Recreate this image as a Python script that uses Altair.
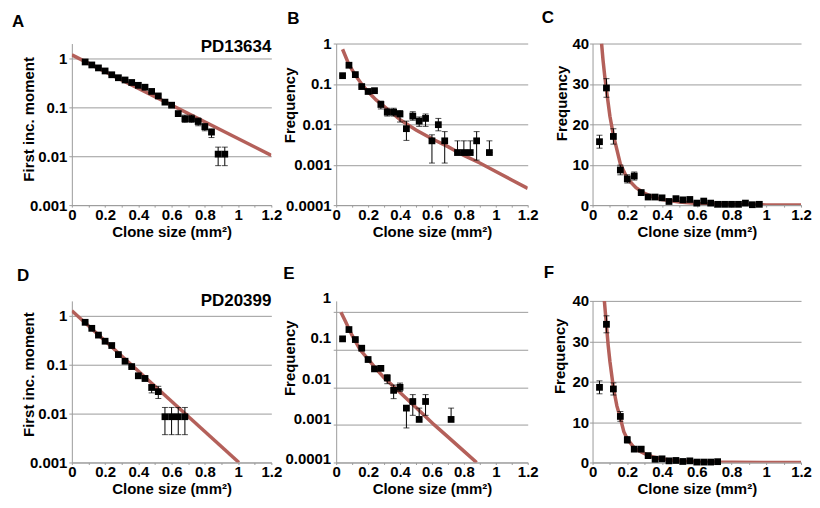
import altair as alt
import pandas as pd

FONT = "Liberation Sans"
FIT_COLOR = "#B4605A"
GRID = "#9c9c9c"

# ---------------- data ----------------
x_ticks = [0, 0.1, 0.2, 0.3, 0.4, 0.5, 0.6, 0.7, 0.8, 0.9, 1.0, 1.1, 1.2]

# A: PD13634 first incomplete moment
a_x = [0.08, 0.12, 0.16, 0.20, 0.24, 0.28, 0.32, 0.36, 0.40, 0.44, 0.48, 0.52, 0.56, 0.60, 0.64, 0.68, 0.72, 0.76, 0.80, 0.84, 0.88, 0.92]
a_y = [0.84, 0.73, 0.635, 0.55, 0.46, 0.40, 0.36, 0.32, 0.28, 0.256, 0.21, 0.17, 0.127, 0.11, 0.074, 0.058, 0.058, 0.051, 0.040, 0.031, 0.011, 0.011]
a_lo = [0.82, 0.71, 0.62, 0.535, 0.45, 0.39, 0.35, 0.31, 0.27, 0.246, 0.20, 0.16, 0.118, 0.102, 0.066, 0.049, 0.049, 0.042, 0.033, 0.024, 0.0064, 0.0064]
a_hi = [0.86, 0.75, 0.65, 0.565, 0.47, 0.41, 0.37, 0.33, 0.29, 0.266, 0.22, 0.18, 0.136, 0.118, 0.082, 0.069, 0.069, 0.060, 0.046, 0.036, 0.0153, 0.0153]
a_fit_x = [0, 1.2]
a_fit_y = [1.17, 0.0104]

# B: PD13634 frequency (log)
b_x = [0.04, 0.08, 0.12, 0.16, 0.20, 0.24, 0.28, 0.32, 0.36, 0.40, 0.44, 0.48, 0.52, 0.56, 0.60, 0.64, 0.68, 0.76, 0.80, 0.84, 0.88, 0.96]
b_y = [0.16, 0.29, 0.17, 0.086, 0.065, 0.068, 0.031, 0.020, 0.020, 0.018, 0.0078, 0.016, 0.012, 0.014, 0.0039, 0.0098, 0.0039, 0.002, 0.002, 0.002, 0.0039, 0.002]
b_lo = [0.155, 0.28, 0.165, 0.083, 0.062, 0.065, 0.024, 0.016, 0.016, 0.0114, 0.004, 0.0126, 0.0089, 0.0089, 0.0011, 0.0069, 0.0011, 0.002, 0.002, 0.002, 0.0013, 0.002]
b_hi = [0.165, 0.30, 0.175, 0.089, 0.068, 0.071, 0.0375, 0.025, 0.025, 0.022, 0.012, 0.0205, 0.0152, 0.018, 0.0055, 0.014, 0.0066, 0.0039, 0.0039, 0.0039, 0.0066, 0.0039]
b_fit_x = [0.04, 0.08, 0.12, 0.16, 0.20, 0.25, 0.30, 0.40, 0.50, 0.60, 0.70, 0.80, 0.90, 1.00, 1.10, 1.20]
b_fit_y = [0.72, 0.30, 0.165, 0.098, 0.064, 0.040, 0.028, 0.013, 0.0072, 0.0044, 0.0028, 0.0017, 0.0011, 0.00068, 0.00042, 0.00026]

# C: PD13634 frequency (linear)
c_x = [0.04, 0.08, 0.12, 0.16, 0.20, 0.24, 0.28, 0.32, 0.36, 0.40, 0.44, 0.48, 0.52, 0.56, 0.60, 0.64, 0.68, 0.72, 0.76, 0.80, 0.84, 0.88, 0.92, 0.96]
c_y = [15.7, 29.0, 17.0, 8.7, 6.5, 7.2, 3.1, 2.0, 2.0, 1.8, 0.9, 1.6, 1.3, 1.4, 0.5, 1.0, 0.5, 0.2, 0.2, 0.2, 0.2, 0.5, 0.1, 0.2]
c_lo = [14.1, 26.7, 15.1, 7.5, 5.5, 6.2, 2.5, 1.7, 1.7, 1.5, 0.6, 1.3, 1.0, 1.1, 0.2, 0.7, 0.2, 0.0, 0.0, 0.0, 0.0, 0.2, 0.0, 0.0]
c_hi = [17.3, 31.3, 18.9, 9.9, 7.5, 8.2, 3.7, 2.3, 2.3, 2.1, 1.2, 1.9, 1.6, 1.7, 0.8, 1.3, 0.8, 0.4, 0.4, 0.4, 0.4, 0.8, 0.2, 0.4]
c_fit_x = [0.052, 0.06, 0.07, 0.08, 0.10, 0.12, 0.16, 0.20, 0.25, 0.30, 0.35, 0.40, 0.50, 0.60, 0.70, 0.80, 0.90, 1.00, 1.20]
c_fit_y = [40, 36, 32, 28.5, 22, 17.3, 10.2, 6.6, 4.3, 2.9, 2.0, 1.4, 0.75, 0.42, 0.25, 0.15, 0.09, 0.055, 0.02]

# D: PD20399 first incomplete moment
d_x = [0.08, 0.12, 0.16, 0.20, 0.24, 0.28, 0.32, 0.36, 0.40, 0.44, 0.48, 0.52, 0.56, 0.60, 0.64, 0.68]
d_y = [0.73, 0.55, 0.40, 0.30, 0.245, 0.16, 0.117, 0.091, 0.059, 0.052, 0.034, 0.028, 0.0086, 0.0086, 0.0086, 0.0086]
d_lo = [0.71, 0.535, 0.39, 0.29, 0.237, 0.155, 0.113, 0.087, 0.055, 0.046, 0.0264, 0.0203, 0.0037, 0.0037, 0.0037, 0.0037]
d_hi = [0.75, 0.565, 0.41, 0.31, 0.253, 0.165, 0.121, 0.095, 0.064, 0.059, 0.0386, 0.036, 0.0133, 0.0133, 0.0133, 0.0133]
d_fit_x = [0, 1.005]
d_fit_y = [1.26, 0.001]

# E: PD20399 frequency (log)
e_x = [0.04, 0.08, 0.12, 0.16, 0.20, 0.24, 0.28, 0.32, 0.36, 0.40, 0.44, 0.48, 0.52, 0.56, 0.72]
e_y = [0.195, 0.345, 0.187, 0.11, 0.055, 0.031, 0.032, 0.0177, 0.0083, 0.010, 0.0028, 0.0042, 0.0014, 0.0042, 0.0014]
e_lo = [0.19, 0.335, 0.18, 0.106, 0.053, 0.030, 0.031, 0.0125, 0.0050, 0.0078, 0.00083, 0.0018, 0.0014, 0.0018, 0.0014]
e_hi = [0.20, 0.355, 0.193, 0.114, 0.057, 0.032, 0.033, 0.0217, 0.0115, 0.013, 0.0028, 0.0064, 0.0028, 0.0064, 0.0028]
e_fit_x = [0.03, 0.06, 0.08, 0.10, 0.12, 0.15, 0.20, 0.25, 0.30, 0.365, 0.45, 0.53, 0.615, 0.70, 0.80, 0.88]
e_fit_y = [1.0, 0.55, 0.36, 0.24, 0.17, 0.10, 0.056, 0.031, 0.018, 0.010, 0.0046, 0.0022, 0.001, 0.00048, 0.0002, 0.0001]
e_label_vals = [1, 0.1, 0.01, 0.001, 0.0001]
e_label_txt = ["1", "0.1", "0.01", "0.001", "0.0001"]

# F: PD20399 frequency (linear)
f_x = [0.04, 0.08, 0.12, 0.16, 0.20, 0.24, 0.28, 0.32, 0.36, 0.40, 0.44, 0.48, 0.52, 0.56, 0.60, 0.64, 0.68, 0.72]
f_y = [18.6, 34.2, 18.2, 11.4, 5.6, 3.3, 3.3, 1.7, 0.8, 0.9, 0.4, 0.5, 0.25, 0.4, 0.1, 0.1, 0.1, 0.2]
f_lo = [17.0, 32.1, 16.7, 10.2, 4.8, 2.8, 2.8, 1.4, 0.6, 0.7, 0.2, 0.3, 0.1, 0.2, 0.0, 0.0, 0.0, 0.0]
f_hi = [20.2, 36.3, 19.7, 12.6, 6.4, 3.8, 3.8, 2.0, 1.0, 1.1, 0.6, 0.7, 0.4, 0.6, 0.2, 0.2, 0.2, 0.4]
f_fit_x = [0.068, 0.08, 0.09, 0.10, 0.12, 0.14, 0.16, 0.18, 0.20, 0.24, 0.28, 0.30, 0.35, 0.40, 0.50, 0.60, 0.80, 1.00, 1.20]
f_fit_y = [40, 34, 29, 25, 18.5, 14, 11, 7.6, 5.8, 3.6, 2.6, 2.2, 1.35, 0.85, 0.35, 0.15, 0.03, 0.01, 0.0]

# ---------------- helpers ----------------
def xenc():
    return alt.X(
        "x:Q",
        scale=alt.Scale(domain=[0, 1.2], nice=False, zero=False),
        axis=alt.Axis(
            values=x_ticks, format="~g",
            labelExpr="round(datum.value*10) % 2 == 0 ? datum.label : ''",
            title="Clone size (mm²)", grid=False, tickSize=2,
            labelPadding=0, titlePadding=2, labelFlush=False, labelOverlap=False,
        ),
    )


def label_text(txt, x, y, align="left"):
    return alt.Chart(pd.DataFrame({"t": [txt]})).mark_text(
        align=align, baseline="alphabetic", fontSize=17, fontWeight="bold", font=FONT, color="black"
    ).encode(x=alt.value(x), y=alt.value(y), text="t:N")


def panel(letter, lx, ly, xs, ys, los, his, fx, fy, scale, yvals, ytitle,
          tx, ty, w, h, labels=True, pd_text=None, pd_y=8, lpad=2, yfmt="~g"):
    pts = pd.DataFrame({"x": xs, "y": ys, "lo": los, "hi": his})
    fit = pd.DataFrame({"x": fx, "y": fy})
    yaxis = alt.Axis(
        values=yvals, format=yfmt, title=ytitle, grid=True, labels=labels,
        tickSize=3, labelPadding=lpad, titleX=tx, titleY=ty, titleAngle=270,
        titleBaseline="alphabetic", titleAlign="center", labelOverlap=False,
        labelFlush=False,
    )
    line = alt.Chart(fit).mark_line(color=FIT_COLOR, strokeWidth=3.5, clip=True).encode(
        x=xenc(), y=alt.Y("y:Q", scale=scale, axis=yaxis))
    rule = alt.Chart(pts).mark_rule(color="black", strokeWidth=1).encode(
        x=xenc(), y=alt.Y("lo:Q", scale=scale, axis=yaxis), y2="hi:Q")
    cap_lo = alt.Chart(pts).mark_tick(color="black", orient="horizontal", size=6, thickness=1).encode(
        x=xenc(), y=alt.Y("lo:Q", scale=scale, axis=yaxis))
    cap_hi = alt.Chart(pts).mark_tick(color="black", orient="horizontal", size=6, thickness=1).encode(
        x=xenc(), y=alt.Y("hi:Q", scale=scale, axis=yaxis))
    sq = alt.Chart(pts).mark_square(color="black", size=46, opacity=1).encode(
        x=xenc(), y=alt.Y("y:Q", scale=scale, axis=yaxis))
    layers = [line, rule, cap_lo, cap_hi, sq, label_text(letter, lx, ly)]
    if pd_text:
        layers.append(label_text(pd_text, w, pd_y, align="right"))
    return alt.layer(*layers)


H = 162
W0, W1, W2 = 200, 192, 209

log_a = alt.Scale(type="log", domain=[0.001, 2], nice=False)
log_b = alt.Scale(type="log", domain=[0.0001, 1], nice=False)
lin_c = alt.Scale(domain=[0, 40], nice=False)
log_e = alt.Scale(type="log", domain=[0.0001, 2], nice=False)

A = panel("A", -60, -17, a_x, a_y, a_lo, a_hi, a_fit_x, a_fit_y, log_a,
          [0.001, 0.01, 0.1, 1], "First inc. moment", -38.5, 75.5, W0, H,
          pd_text="PD13634", pd_y=8).properties(width=W0, height=H)

B = panel("B", -49, -20, b_x, b_y, b_lo, b_hi, b_fit_x, b_fit_y, log_b,
          [0.0001, 0.001, 0.01, 0.1, 1], "Frequency", -42, 61.5, W1, H).properties(width=W1, height=H)

C = panel("C", -51, -21, c_x, c_y, c_lo, c_hi, c_fit_x, c_fit_y, lin_c,
          [0, 10, 20, 30, 40], "Frequency", -26.5, 59.5, W2, H, lpad=1, yfmt="d").properties(width=W2, height=H)

D = panel("D", -55, -20, d_x, d_y, d_lo, d_hi, d_fit_x, d_fit_y, log_a,
          [0.001, 0.01, 0.1, 1], "First inc. moment", -38.5, 73.5, W0, H,
          pd_text="PD20399", pd_y=5).properties(width=W0, height=H)

E_main = panel("E", -53, -22, e_x, e_y, e_lo, e_hi, e_fit_x, e_fit_y, log_e,
               [0.0001, 0.001, 0.01, 0.1, 1], "Frequency", -42, 57, W1, H, labels=False)
e_lab = alt.Chart(pd.DataFrame({"v": e_label_vals, "t": e_label_txt})).mark_text(
    align="right", baseline="middle", fontSize=15, fontWeight="bold", font=FONT, color="black", dy=-3
).encode(
    x=alt.value(-5),
    y=alt.Y("v:Q", scale=alt.Scale(type="log", domain=[0.0001, 1], nice=False), axis=None),
    text="t:N",
)
E = alt.layer(E_main, e_lab).resolve_scale(y="independent").properties(width=W1, height=H)

F = panel("F", -49, -23, f_x, f_y, f_lo, f_hi, f_fit_x, f_fit_y, lin_c,
          [0, 10, 20, 30, 40], "Frequency", -28, 55, W2, H, lpad=1, yfmt="d").properties(width=W2, height=H)

chart = alt.concat(A, B, C, D, E, F, columns=3, spacing={"row": 96, "column": 65},
                   bounds="flush", align="each").properties(
    padding={"left": 4, "top": 0, "right": 0, "bottom": 0},
    background="white",
).configure_axis(
    labelFont=FONT, labelFontSize=15, labelFontWeight="bold", labelColor="black",
    titleFont=FONT, titleFontSize=15, titleFontWeight="bold", titleColor="black",
    domainColor=GRID, tickColor=GRID, gridColor=GRID, gridWidth=1, domainWidth=1,
).configure_view(stroke=None)

chart.save("out.html", embed_options={"renderer": "svg", "actions": False})
